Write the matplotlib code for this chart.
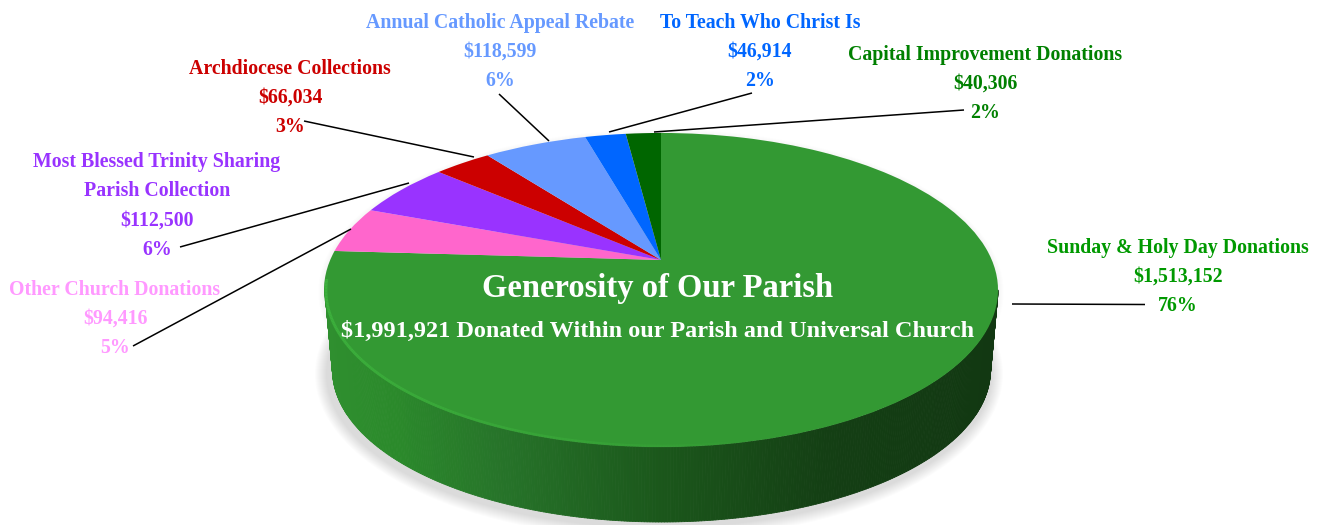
import numpy as np
import matplotlib
matplotlib.use("Agg")
import matplotlib.pyplot as plt
from matplotlib.transforms import Transform
from matplotlib.patches import Ellipse
from matplotlib.collections import PolyCollection, LineCollection
from matplotlib.colors import LinearSegmentedColormap

W, H = 1320, 525
names = ["Sunday & Holy Day Donations", "Other Church Donations",
         "Most Blessed Trinity Sharing\nParish Collection", "Archdiocese Collections",
         "Annual Catholic Appeal Rebate", "To Teach Who Christ Is",
         "Capital Improvement Donations"]
values = [1513152, 94416, 112500, 66034, 118599, 46914, 40306]
slice_colors = ["#339933", "#FF66CC", "#9933FF", "#CC0000", "#6699FF", "#0066FF", "#006600"]
label_colors = ["#009900", "#FF99FF", "#9933FF", "#CC0000", "#6699FF", "#0066FF", "#008000"]
label_xy = [(1178, 277), (115, 319), (157, 206), (290, 98), (500, 52), (760, 52), (985, 84)]
leader_start = [(1012, 304), (133, 346), (180, 247), (304, 121), (499, 94), (752, 93), (964, 110)]
leader_end = [(1145, 304.5), (351, 229), (409, 183), (474, 157), (549, 141), (609, 132), (654, 132)]
title = "Generosity of Our Parish"
subtitle = "$1,991,921 Donated Within our Parish and Universal Church"

FONT = "Liberation Serif"
CX, CY_APEX = 661.0, 260.0
K, A, B = 0.191, 151.3, 330.8


class Perspective(Transform):
    input_dims = output_dims = 2
    def transform_non_affine(self, xy):
        xy = np.asarray(xy, float)
        d = 1 + K * xy[:, 1]
        return np.column_stack([CX + B * xy[:, 0] / d, CY_APEX - A * xy[:, 1] / d])


fig = plt.figure(figsize=(W / 100, H / 100), dpi=100, facecolor="white")
ax = fig.add_axes([0, 0, 1, 1])

persp = Perspective()
wedges, _ = ax.pie(values, colors=slice_colors, startangle=90, counterclock=False,
                   radius=1, frame=True, wedgeprops=dict(linewidth=0))
for w in wedges:
    w.set_transform(persp + ax.transData)
    w.set_zorder(5)
    w.set_clip_on(False)
ax.set_aspect("auto")
ax.set_xlim(0, W)
ax.set_ylim(H, 0)
ax.axis("off")

# soft shadow round the body
for i in range(12):
    g = 12 - i
    ax.add_patch(Ellipse((659, 374), 2 * 332 + 2.0 * g, 2 * 153 + 2.0 * g,
                         fc="#000000", ec="none", alpha=0.011, zorder=1))
    ax.add_patch(Ellipse((661, 292), 2 * 337 + 1.0 * g, 2 * 157 + 1.0 * g,
                         fc="#000000", ec="none", alpha=0.005, zorder=1))

# side wall
t = np.radians(np.linspace(180, 360, 361))
tx = 661.5 + 336.5 * np.cos(t)
ty = 290 - 157 * np.sin(t)
bx = 661.5 + 329 * np.cos(t)
by = 370 - 152 * np.sin(t)
quads = [[(tx[i], ty[i]), (tx[i + 1], ty[i + 1]), (bx[i + 1], by[i + 1]), (bx[i], by[i])]
         for i in range(len(t) - 1)]
cmap = LinearSegmentedColormap.from_list(
    "wall", [(0.0, "#2F8F2F"), (0.1, "#2B8A2B"), (0.25, "#27752A"), (0.5, "#1B571B"),
             (0.75, "#143F14"), (1.0, "#123812")])
mid = (tx[:-1] + tx[1:] - 2 * 325) / 2 / 673
wall_cols = cmap(np.clip(mid, 0, 1))
ax.add_collection(PolyCollection(quads, facecolors=wall_cols, edgecolors=wall_cols,
                                 linewidths=0.6, zorder=3))

# highlighted rim on the lower-left of the top face
rt = np.radians(np.linspace(176, 285, 200))
rx = 661.5 + 335.5 * np.cos(rt)
ry = 290 - 156 * np.sin(rt)
segs = [[(rx[i], ry[i]), (rx[i + 1], ry[i + 1])] for i in range(len(rt) - 1)]
fade = np.clip(1.0 - (rt[:-1] - rt[0]) / (rt[-1] - rt[0]), 0, 1) ** 0.7
rim = np.tile(matplotlib.colors.to_rgba("#3DB23D"), (len(segs), 1))
rim[:, 3] = fade
ax.add_collection(LineCollection(segs, colors=rim, linewidths=2, zorder=6, capstyle="butt"))

# leader lines
for (x0, y0), (x1, y1) in zip(leader_start, leader_end):
    ax.plot([x0, x1], [y0, y1], color="black", lw=1.1, zorder=7, solid_capstyle="butt")

# labels
total = sum(values)
for name, v, col, (x, y) in zip(names, values, label_colors, label_xy):
    txt = f"{name}\n${v:,}\n{round(v / total * 100)}%"
    ax.text(x, y, txt, color=col, ha="center", va="center", fontsize=14.3, family=FONT,
            weight="bold", linespacing=1.62, zorder=8, clip_on=False)

ax.text(658, 289, title, color="white", ha="center", va="center", fontsize=23.5,
        family=FONT, weight="bold", zorder=8)
ax.text(658, 331, subtitle, color="white", ha="center", va="center", fontsize=17.5,
        family=FONT, weight="bold", zorder=8)

fig.savefig("out.png", dpi=100, facecolor="white")
